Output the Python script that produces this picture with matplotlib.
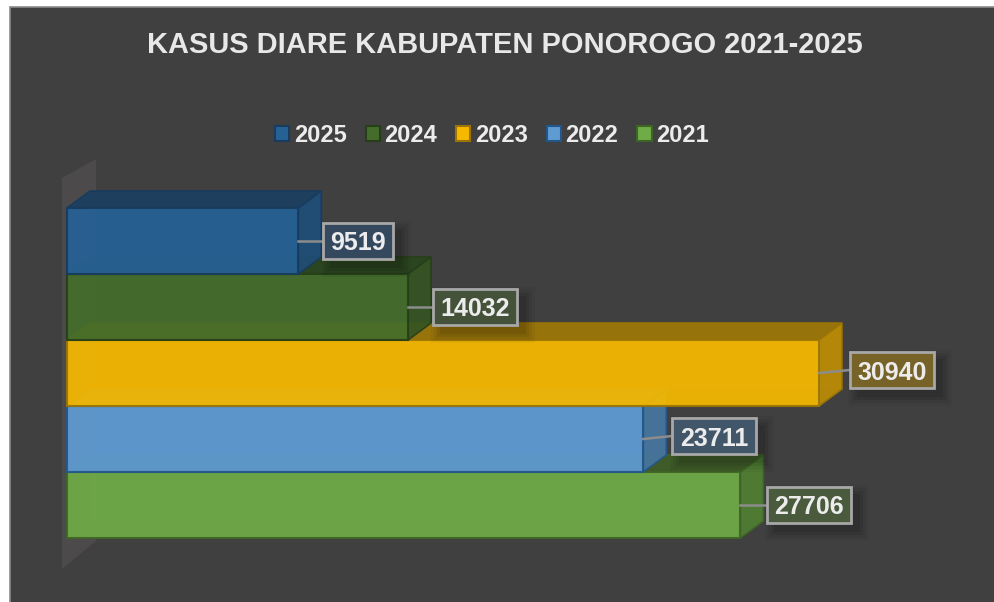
import numpy as np
import matplotlib
matplotlib.use('Agg')
import matplotlib.pyplot as plt
from matplotlib.patches import Polygon, Rectangle, Patch

plt.rcParams['font.family'] = ['Liberation Sans', 'DejaVu Sans']

# data, bottom bar first
years = ['2021', '2022', '2023', '2024', '2025']
cases = [27706, 23711, 30940, 14032, 9519]
title = 'KASUS DIARE KABUPATEN PONOROGO 2021-2025'

# colours per year
front_col = ['#6fab47', '#5f9bd3', '#f6b900', '#446d2b', '#266196']
top_col = ['#3f5c28', '#3f6a90', '#99750a', '#2c4620', '#1e3f60']
side_col = ['#507f34', '#47759f', '#bd8d05', '#345422', '#1f4d78']
edge_col = ['#3f6526', '#23578a', '#9a7405', '#263f18', '#173c5e']
box_col = ['#4a5a3c', '#42566a', '#776328', '#44523a', '#34495e']

W, H = 995, 602
# scale: pixels per case and per bar
px_x = 752 / 30940
px_y = 66
x0_px = 67
y0_px = 505
depth_x = 23 / px_x
depth_y = 17 / px_y
dx = 1 / px_x
dy = 1 / px_y

fig = plt.figure(figsize=(W / 100, H / 100), dpi=100, facecolor='white')
ax = fig.add_axes([0, 0, 1, 1])
ax.set_xlim(-x0_px * dx, (W - x0_px) * dx)
ax.set_ylim((y0_px - H) * dy, y0_px * dy)
ax.axis('off')

# dark panel, runs off the right and bottom of the picture
ax.add_patch(Rectangle((10 / W, -0.02), 1.05, 1.02 - 7 / H, transform=ax.transAxes,
                       fc='#404040', ec='#8a8a8a', lw=1.2, zorder=0))

# side wall behind the bars
y_bar = np.arange(len(years))
wall_l = -5 * dx
wall_r = wall_l + 34 * dx
ax.add_patch(Polygon([(wall_l, y_bar[-1] + 0.5 + 30 * dy), (wall_r, y_bar[-1] + 0.5 + 49 * dy),
                      (wall_r, y_bar[0] - 0.5 - 3 * dy), (wall_l, y_bar[0] - 0.5 - 31 * dy)],
                     fc='#4c4a4a', ec='none', zorder=1))

# lower bars go first so the upper ones sit on top of them
z = 2
for i in range(len(years)):
    v = cases[i]
    lo = y_bar[i] - 0.5
    hi = y_bar[i] + 0.5
    # back, top and side faces
    ax.barh(y_bar[i] + depth_y, v, height=1, left=depth_x, color=front_col[i], alpha=0.12, zorder=z)
    ax.add_patch(Polygon([(0, hi), (depth_x, hi + depth_y), (v + depth_x, hi + depth_y), (v, hi)],
                         fc=top_col[i], ec=edge_col[i], lw=1.2, alpha=0.97, zorder=z + 1))
    ax.add_patch(Polygon([(v, lo), (v + depth_x, lo + depth_y), (v + depth_x, hi + depth_y), (v, hi)],
                         fc=side_col[i], ec=edge_col[i], lw=1.2, alpha=0.92, zorder=z + 1))
    ax.barh(y_bar[i], v, height=1, color=front_col[i], edgecolor=edge_col[i], linewidth=1.5,
            alpha=0.93, zorder=z + 2)
    z += 3

# value labels: gap from the bar end and shift from the bar centre, pixels
lab_gap = [27, 29, 31, 25, 25]
lab_up = [0, 3, 3, 0, 0]
for i in range(len(years)):
    x_box = cases[i] + lab_gap[i] * dx
    y_box = y_bar[i] + lab_up[i] * dy
    s = str(cases[i])
    w = (len(s) * 14 + 14) * dx
    # soft shadow
    for grow, a in zip([10, 7, 4, 1], [0.04, 0.05, 0.07, 0.08]):
        ax.add_patch(Rectangle((x_box + (8 - grow) * dx, y_box - (18 + 8 + grow) * dy),
                               w + 2 * grow * dx, (36 + 2 * grow) * dy,
                               fc='black', ec='none', alpha=a, zorder=40))
    ax.plot([cases[i], x_box], [y_bar[i], y_box], color='#8c8c8c', lw=1.8, zorder=41)
    ax.add_patch(Rectangle((x_box, y_box - 18 * dy), w, 36 * dy, fc=box_col[i], ec='#a8a8a8',
                           lw=2, zorder=42))
    ax.text(x_box + w / 2, y_box, s, ha='center', va='center_baseline', color='#ececec', fontsize=18,
            fontweight='bold', zorder=43)

ax.text(505 / W, 1 - 45 / H, title, transform=ax.transAxes, ha='center', va='center',
        color='#e8e8e8', fontsize=20.9, fontweight='bold', zorder=50)

# legend keeps the reversed year order
handles = [Patch(fc=front_col[i], ec=edge_col[i], lw=1.5, label=years[i])
           for i in range(len(years) - 1, -1, -1)]
leg = ax.legend(handles=handles, ncol=5, loc='center', bbox_to_anchor=(492 / W, 1 - 135 / H),
                frameon=False, fontsize=17, handlelength=0.6, handleheight=0.6,
                handletextpad=0.2, columnspacing=0.8, borderpad=0, borderaxespad=0)
for t in leg.get_texts():
    t.set_color('#ececec')
    t.set_fontweight('bold')

fig.savefig('out.png', dpi=100)
